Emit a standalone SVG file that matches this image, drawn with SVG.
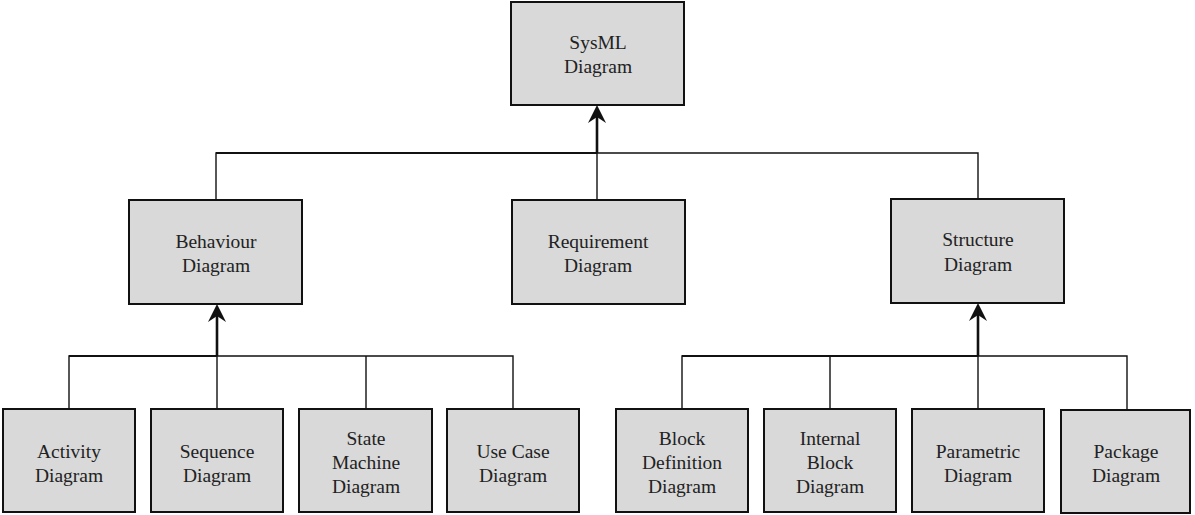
<svg xmlns="http://www.w3.org/2000/svg" width="1195" height="515" viewBox="0 0 1195 515">
<style>
.box{fill:#d9d9d9;stroke:#111;stroke-width:2}
.t{font-family:"Liberation Serif","Times New Roman",serif;font-size:19.5px;fill:#222;text-anchor:middle}
.c{fill:none;stroke:#111;stroke-width:1.4}
.h{fill:none;stroke:#111;stroke-width:2}
.s{fill:none;stroke:#111;stroke-width:2.6}
.ah{fill:#111;stroke:none}
</style>
<rect width="1195" height="515" fill="#fff"/>
<g id="connectors">
<path class="c" d="M216,200 V153 H978 V199 M597,153 V200"/>
<path class="h" d="M216,153 H597"/>
<path class="s" d="M597,153 V110"/>
<path class="ah" d="M597,105 L606,123 L597,117 L588,123 Z"/>
<path class="c" d="M69,409 V356 H513 V409 M217,356 V409 M366,356 V409"/>
<path class="h" d="M69,356 H217"/>
<path class="s" d="M217,356 V310"/>
<path class="ah" d="M217,304 L226,322 L217,316 L208,322 Z"/>
<path class="c" d="M682,409 V356 H1127 V410 M830,356 V409 M978,356 V409"/>
<path class="h" d="M682,356 H978"/>
<path class="s" d="M978,356 V309"/>
<path class="ah" d="M978,303 L987,321 L978,315 L969,321 Z"/>
</g>
<g id="sysml"><rect class="box" x="511" y="2" width="173" height="103"/><text class="t" x="598" y="49">SysML</text><text class="t" x="598" y="73">Diagram</text></g>
<g id="behaviour"><rect class="box" x="129" y="200" width="173" height="104"/><text class="t" x="216" y="248">Behaviour</text><text class="t" x="216" y="272">Diagram</text></g>
<g id="requirement"><rect class="box" x="512" y="200" width="173" height="104"/><text class="t" x="598" y="248">Requirement</text><text class="t" x="598" y="272">Diagram</text></g>
<g id="structure"><rect class="box" x="891" y="199" width="173" height="104"/><text class="t" x="978" y="246">Structure</text><text class="t" x="978" y="271">Diagram</text></g>
<g id="activity"><rect class="box" x="3" y="409" width="132" height="103"/><text class="t" x="69" y="458">Activity</text><text class="t" x="69" y="482">Diagram</text></g>
<g id="sequence"><rect class="box" x="151" y="409" width="132" height="103"/><text class="t" x="217" y="458">Sequence</text><text class="t" x="217" y="482">Diagram</text></g>
<g id="statemachine"><rect class="box" x="299" y="409" width="133" height="103"/><text class="t" x="366" y="445">State</text><text class="t" x="366" y="469">Machine</text><text class="t" x="366" y="493">Diagram</text></g>
<g id="usecase"><rect class="box" x="447" y="409" width="132" height="103"/><text class="t" x="513" y="458">Use Case</text><text class="t" x="513" y="482">Diagram</text></g>
<g id="blockdef"><rect class="box" x="616" y="409" width="132" height="103"/><text class="t" x="682" y="445">Block</text><text class="t" x="682" y="469">Definition</text><text class="t" x="682" y="493">Diagram</text></g>
<g id="internalblock"><rect class="box" x="764" y="409" width="132" height="103"/><text class="t" x="830" y="445">Internal</text><text class="t" x="830" y="469">Block</text><text class="t" x="830" y="493">Diagram</text></g>
<g id="parametric"><rect class="box" x="912" y="409" width="132" height="103"/><text class="t" x="978" y="458">Parametric</text><text class="t" x="978" y="482">Diagram</text></g>
<g id="package"><rect class="box" x="1061" y="410" width="129" height="103"/><text class="t" x="1126" y="458">Package</text><text class="t" x="1126" y="482">Diagram</text></g>
</svg>
